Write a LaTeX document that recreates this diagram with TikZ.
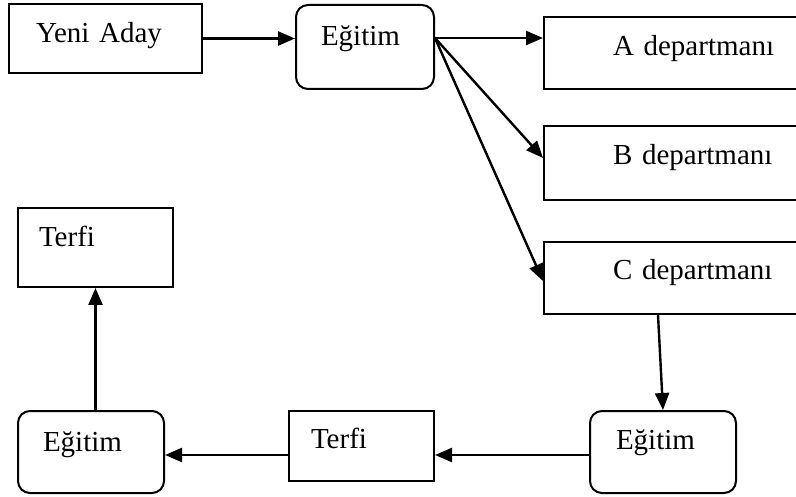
\documentclass[tikz,border=0pt]{standalone}
\usepackage{fontspec}
\setmainfont{Liberation Serif}
\usepackage{tikz}
\usetikzlibrary{arrows.meta}

\begin{document}
\begin{tikzpicture}
        [
            x = 1pt, y = -1pt,
            > = {Triangle[length=17pt, width=14pt]},
            box/.style = {rectangle, draw=black, line width=2pt, anchor=north west,
                inner ysep=0pt, align=left, font=\fontsize{29}{32}\selectfont},
            rbox/.style = {box, rounded corners=12pt},
            link/.style = {->, line width=2.4pt}
        ]
        \useasboundingbox (0, 0) rectangle (796, 497);

        \node [box, inner xsep=27pt, text width=139pt, text height=39pt, text depth=30pt]
            at (8, 3) (yeni) {Yeni Aday};
        \node [rbox, inner xsep=25pt, text width=88pt, text height=41pt, text depth=43pt]
            at (295, 4) (egitim1) {Eğitim};
        \node [box, inner xsep=69pt, text width=200pt, text height=39pt, text depth=33pt]
            at (543, 16) (depA) {A departmanı};
        \node [box, inner xsep=69pt, text width=200pt, text height=39pt, text depth=35pt]
            at (543, 125) (depB) {B departmanı};
        \node [box, inner xsep=69pt, text width=200pt, text height=38pt, text depth=34pt]
            at (543, 241) (depC) {C departmanı};
        \node [box, inner xsep=21pt, text width=113pt, text height=39pt, text depth=40pt]
            at (17, 207) (terfi1) {Terfi};
        \node [rbox, inner xsep=25pt, text width=96pt, text height=40pt, text depth=42pt]
            at (17, 410) (egitim3) {Eğitim};
        \node [box, inner xsep=22pt, text width=101pt, text height=37pt, text depth=33pt]
            at (288, 410) (terfi2) {Terfi};
        \node [rbox, inner xsep=26pt, text width=94pt, text height=38pt, text depth=44pt]
            at (589, 410) (egitim2) {Eğitim};

        \coordinate (out1) at ([yshift=9pt]egitim1.east);

        \draw[link] (yeni.east) -- (yeni.east -| egitim1.west);
        \draw[link] (out1) -- (out1 -| depA.west);
        \draw[link] (out1) -- ([yshift=5pt]depB.west);
        \draw[link] (out1) -- ([yshift=-3pt]depC.west);
        \draw[link] ([xshift=115pt]depC.south west) -- (egitim2.north);
        \draw[link] ([yshift=-3pt]egitim2.west) -- ([yshift=-3pt]egitim2.west -| terfi2.east);
        \draw[link] ([yshift=-3pt]egitim2.west -| terfi2.west) -- ([yshift=-3pt]egitim2.west -| egitim3.east);
        \draw[link] (egitim3.north -| terfi1.south) -- (terfi1.south);
    \end{tikzpicture}
\end{document}
